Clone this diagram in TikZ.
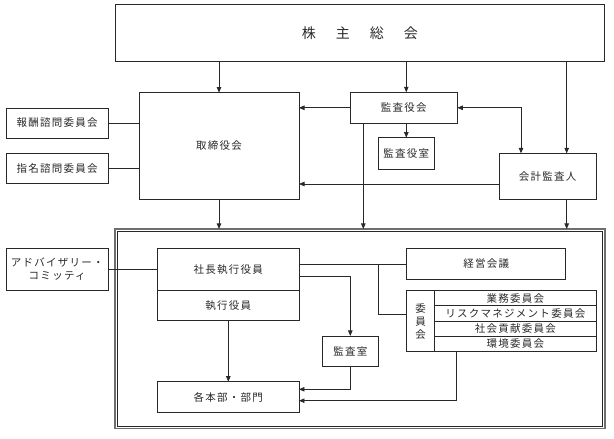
\documentclass[tikz,border=0pt]{standalone}
\usepackage{fontspec}
\setmainfont{Noto Sans CJK JP}[LetterSpace=12]
\usetikzlibrary{arrows.meta}
\definecolor{ink}{RGB}{40,40,40}
\definecolor{framegray}{RGB}{110,110,110}
\tikzset{
  box/.style={draw=ink, line width=0.7pt, rectangle, inner sep=0pt, outer sep=0pt,
    text=ink, font=\fontsize{10.5}{13.2}\selectfont, align=center},
  conn/.style={draw=ink, line width=0.7pt},
  arr/.style={conn, -{Triangle[length=5.5pt,width=4.5pt]}},
  darr/.style={conn, {Triangle[length=5.5pt,width=4.5pt]}-{Triangle[length=5.5pt,width=4.5pt]}},
}
\begin{document}
\begin{tikzpicture}[x=1pt,y=-1pt]
\useasboundingbox (0,0) rectangle (614,439);
% top level
\node[box, minimum width=488.3pt, minimum height=57pt, font=\fontsize{14}{16}\selectfont] (kabu) at (359.9,33.2)
  {株\hspace{20pt}主\hspace{20pt}総\hspace{20pt}会};
\node[box, minimum width=160pt, minimum height=106.5pt] (tori) at (219,145.8) {取締役会};
\node[box, minimum width=102.3pt, minimum height=30pt] (hoshu) at (57.2,123) {報酬諮問委員会};
\node[box, minimum width=102.3pt, minimum height=30.5pt] (shimei) at (57.2,168.2) {指名諮問委員会};
\node[box, minimum width=107.3pt, minimum height=31pt] (kyakukai) at (403.7,107.8) {監査役会};
\node[box, minimum width=56pt, minimum height=31.3pt] (kyakushitsu) at (406.3,153.3) {監査役室};
\node[box, minimum width=96.7pt, minimum height=45.7pt] (kaikei) at (547.7,176.2) {会計監査人};
% frame
\node[draw=framegray, line width=1.5pt, minimum width=490pt, minimum height=199.5pt, inner sep=0pt, outer sep=0pt] (frame) at (360,328.7) {};
\node[draw=ink, line width=0.6pt, minimum width=485.4pt, minimum height=195.3pt, inner sep=0pt, outer sep=0pt] (frameinner) at (360,328.7) {};
% inside
\node[box, minimum width=102.3pt, minimum height=41.6pt] (advisory) at (57.2,269.5) {アドバイザリー・\\コミッティ};
\node[box, minimum width=141.3pt, minimum height=42pt] (shacho) at (228.3,269.7) {社長執行役員};
\node[box, minimum width=141.3pt, minimum height=30pt] (shikko) at (228.3,305.7) {執行役員};
\node[box, minimum width=141.3pt, minimum height=30.6pt] (kakuhonbu) at (228.3,397) {各本部・部門};
\node[box, minimum width=159pt, minimum height=30.6pt] (keiei) at (486.2,264) {経営会議};
\node[box, minimum width=56.7pt, minimum height=30.7pt] (kansashitsu) at (350.3,351.3) {監査室};
\node[box, minimum width=28pt, minimum height=61pt, font=\fontsize{10.5}{13}\selectfont] (iinkai) at (420.7,321.2) {委\\員\\会};
\node[box, minimum width=161.3pt, minimum height=15pt] (gyomu) at (515.35,298.2) {業務委員会};
\node[box, minimum width=161.3pt, minimum height=15.3pt] (risk) at (515.35,313.35) {リスクマネジメント委員会};
\node[box, minimum width=161.3pt, minimum height=15.3pt] (shakai) at (515.35,328.65) {社会貢献委員会};
\node[box, minimum width=161.3pt, minimum height=15.4pt] (kankyo) at (515.35,344) {環境委員会};
% helper coordinates
\coordinate (kx) at (566.7,0);
\coordinate (dx) at (521,0);
\coordinate (ax) at (363.3,0);
\coordinate (ky) at (0,184);
\coordinate (bx) at (378.3,0);
\coordinate (by) at (0,314);
\coordinate (sy) at (0,276.7);
\coordinate (ly1) at (0,389.3);
\coordinate (ly2) at (0,400.7);
\coordinate (ex) at (456.7,0);
% connectors, top
\draw[arr] (tori.north |- kabu.south) -- (tori.north);
\draw[arr] (kyakushitsu.north |- kabu.south) -- (kyakushitsu.north |- kyakukai.north);
\draw[arr] (kx |- kabu.south) -- (kx |- kaikei.north);
\draw[arr] (kyakukai.west) -- (kyakukai.west -| tori.east);
\draw[darr] (kyakukai.east) -| (dx |- kaikei.north);
\draw[arr] (kyakushitsu.north |- kyakukai.south) -- (kyakushitsu.north);
\draw[arr] (kaikei.west |- ky) -- (tori.east |- ky);
\draw[conn] (hoshu.east) -- (hoshu.east -| tori.west);
\draw[conn] (shimei.east) -- (shimei.east -| tori.west);
\draw[arr] (tori.south) -- (tori.south |- frame.north);
\draw[arr] (ax |- kyakukai.south) -- (ax |- frame.north);
\draw[arr] (kx |- kaikei.south) -- (kx |- frame.north);
% connectors, inside
\draw[conn] (advisory.east) -- (advisory.east -| shacho.west);
\draw[conn] (keiei.west -| shacho.east) -- (keiei.west);
\draw[conn] (bx |- keiei.west) |- (iinkai.west |- by);
\draw[arr] (shacho.east |- sy) -| (kansashitsu.north);
\draw[arr] (shikko.south) -- (kakuhonbu.north);
\draw[arr] (kansashitsu.south) |- (kakuhonbu.east |- ly1);
\draw[arr] (ex |- kankyo.south) |- (kakuhonbu.east |- ly2);
\end{tikzpicture}
\end{document}
